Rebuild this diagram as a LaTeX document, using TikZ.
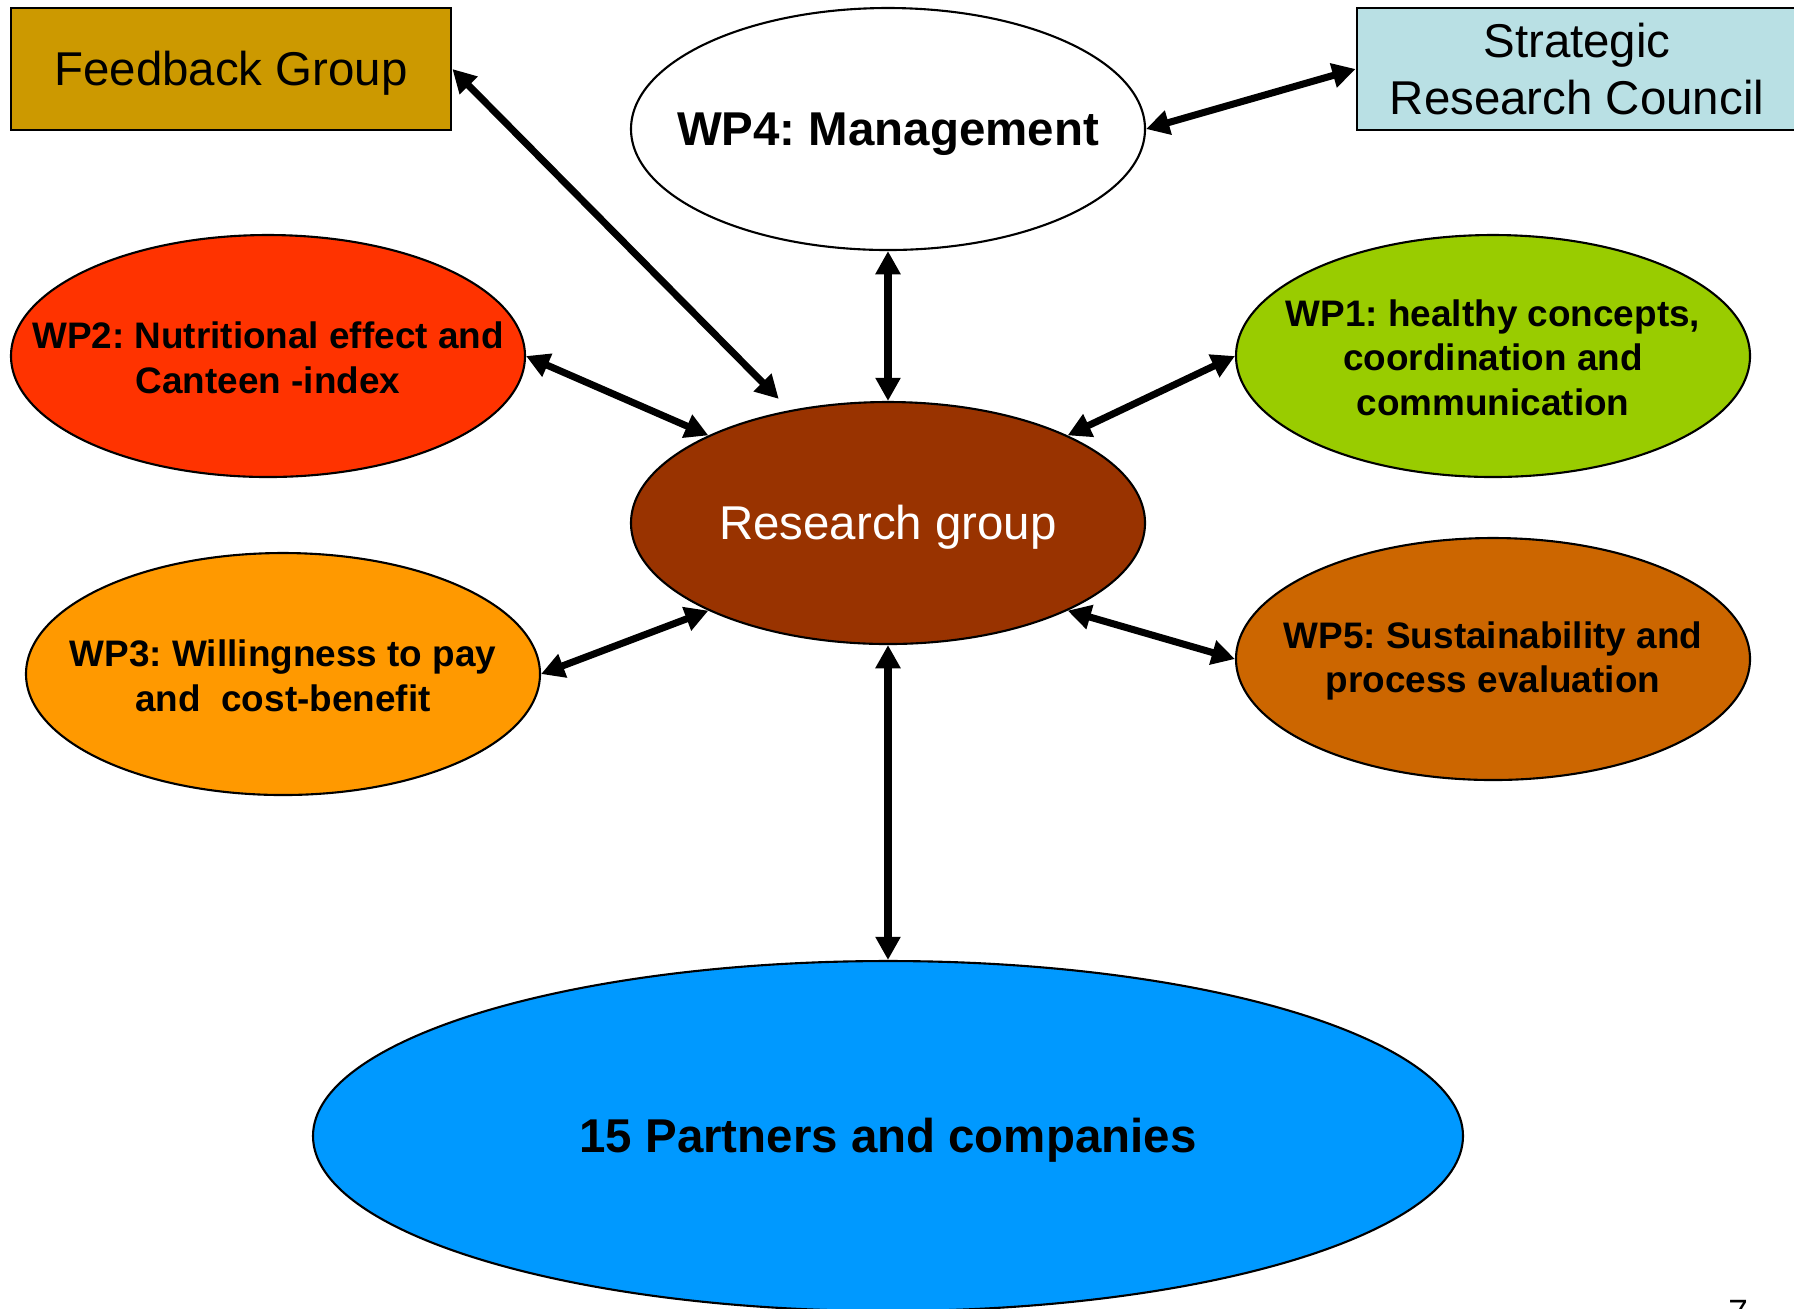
\documentclass[tikz,border=0pt]{standalone}
\usepackage{fontspec}
\setmainfont{Liberation Sans}
\usetikzlibrary{shapes.geometric,arrows.meta}
\definecolor{FBGold}{RGB}{204,153,0}
\definecolor{SRCBlue}{RGB}{185,224,228}
\definecolor{WPRed}{RGB}{255,51,0}
\definecolor{WPGreen}{RGB}{153,204,0}
\definecolor{WPOrange}{RGB}{255,153,0}
\definecolor{WPRust}{RGB}{204,102,0}
\definecolor{RGBrown}{RGB}{153,51,0}
\definecolor{PartBlue}{RGB}{0,153,255}
\frenchspacing

\begin{document}
\begin{tikzpicture}[x=0.1mm,y=-0.1mm,
  wp/.style={ellipse,draw=black,line width=0.6pt,
             minimum width=5.14cm,minimum height=2.42cm,inner sep=0pt},
  wptext/.style={font=\fontsize{10.5}{12.6}\selectfont\bfseries,
                 align=center,inner sep=0pt,yshift=-0.5pt},
  big/.style={font=\fontsize{13.5}{16.2}\selectfont},
  oneline/.style={text height=12.2pt,text depth=2.9pt},
  bigbold/.style={font=\fontsize{13.5}{16.2}\selectfont\bfseries,inner sep=0pt,oneline},
  board/.style={draw=black,line width=0.8pt,minimum width=4.4cm,
                minimum height=1.22cm,inner sep=0pt,align=center,big},
  link/.style={{Triangle[length=6.6pt,width=6.8pt]}-{Triangle[length=6.6pt,width=6.8pt]},
               line width=2pt},
]
\fill[white] (0,0) rectangle (1794,1308);
\useasboundingbox (0,0) rectangle (1794,1308);
% boards at the top
\node[board,fill=FBGold,oneline] (fb) at (231,69) {Feedback Group};
\node[board,fill=SRCBlue] (src) at (1577,69) {Strategic\\Research Council};
% central group and management
\node[wp,fill=white,label={[bigbold]center:WP4: Management}] (wp4) at (888,129) {};
\node[wp,fill=RGBrown,label={[big,oneline,text=white,inner sep=0pt]center:Research group}]
  (rg) at (888,523) {};
% work packages
\node[wp,fill=WPRed,label={[wptext]center:WP2: Nutritional effect and\\Canteen -index}]
  (wp2) at (268,356) {};
\node[wp,fill=WPGreen,label={[wptext]center:WP1: healthy concepts,\\coordination and\\communication}]
  (wp1) at (1493,356) {};
\node[wp,fill=WPOrange,label={[wptext]center:WP3: Willingness to pay\\and\ \ cost-benefit}]
  (wp3) at (283,674) {};
\node[wp,fill=WPRust,label={[wptext]center:WP5: Sustainability and\\process evaluation}]
  (wp5) at (1493,659) {};
% partners
\node[ellipse,draw=black,line width=0.6pt,fill=PartBlue,minimum width=11.5cm,
      minimum height=3.5cm,inner sep=0pt,label={[bigbold]center:15 Partners and companies}]
  (part) at (888,1136) {};
\node[anchor=north,inner sep=0pt,font=\fontsize{10}{12}\selectfont] (pg) at (1738,1300) {7};
% connectors
\draw[link] (fb.east) -- (rg.131) [shorten >=4.5pt];
\draw[link] (wp4.east) -- (src.west);
\draw[link] (wp4.south) -- (rg.north);
\draw[link] (wp2.east) -- (rg.154);
\draw[link] (wp1.west) -- (rg.26);
\draw[link] (wp3.east) -- (rg.-154);
\draw[link] (wp5.west) -- (rg.-26);
\draw[link] (rg.south) -- (part.north);
\end{tikzpicture}
\end{document}
